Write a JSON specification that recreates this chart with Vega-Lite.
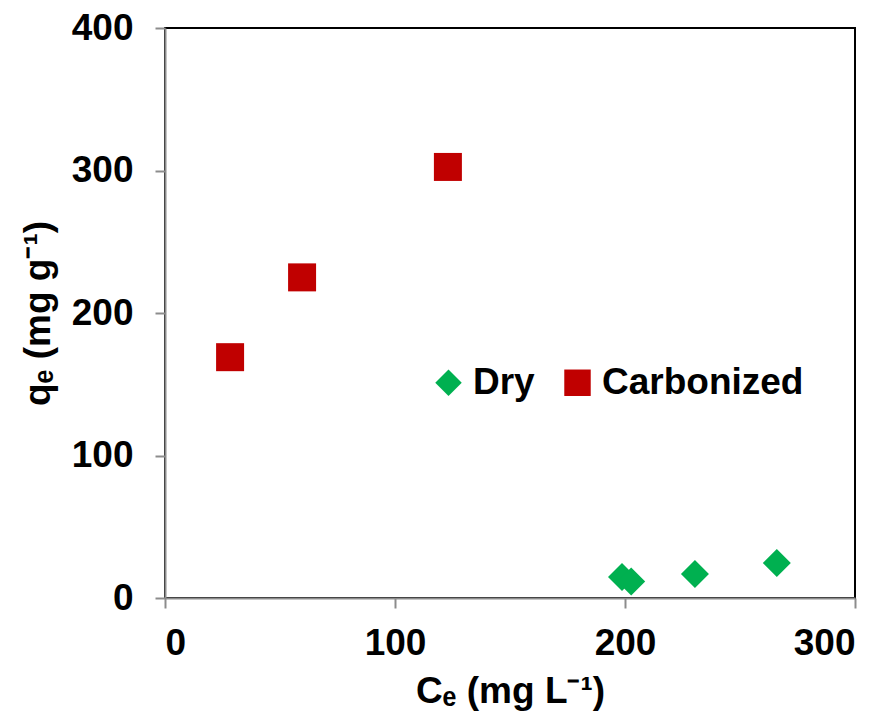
{
  "$schema": "https://vega.github.io/schema/vega-lite/v6.json",
  "width": 690,
  "height": 570,
  "autosize": "none",
  "padding": {"left": 165, "top": 28, "right": 38, "bottom": 122},
  "background": "white",
  "config": {
    "font": "Liberation Sans",
    "view": {"stroke": "black", "strokeWidth": 2},
    "axis": {
      "grid": false,
      "domainColor": "#8c8c8c",
      "domainWidth": 2,
      "tickColor": "#8c8c8c",
      "tickWidth": 2,
      "tickSize": 10,
      "labelFont": "Liberation Sans",
      "labelFontSize": 37,
      "labelFontWeight": "bold",
      "labelColor": "black",
      "titleFont": "Liberation Sans",
      "titleFontSize": 37,
      "titleFontWeight": "bold",
      "titleColor": "black"
    }
  },
  "data": {
    "values": [
      {"Ce": 28.3, "qe": 169, "series": "Carbonized"},
      {"Ce": 59.6, "qe": 225, "series": "Carbonized"},
      {"Ce": 123, "qe": 302.5, "series": "Carbonized"},
      {"Ce": 198.7, "qe": 14.7, "series": "Dry"},
      {"Ce": 202.7, "qe": 11.5, "series": "Dry"},
      {"Ce": 230.4, "qe": 16.8, "series": "Dry"},
      {"Ce": 266, "qe": 24.5, "series": "Dry"}
    ]
  },
  "mark": {"type": "point", "filled": true, "opacity": 1, "size": 784},
  "encoding": {
    "x": {
      "field": "Ce", "type": "quantitative",
      "scale": {"domain": [0, 300], "nice": false},
      "axis": {"values": [0, 100, 200, 300], "title": "Cₑ (mg L⁻¹)", "labelPadding": 17, "titlePadding": 12}
    },
    "y": {
      "field": "qe", "type": "quantitative",
      "scale": {"domain": [0, 400], "nice": false},
      "axis": {"values": [0, 100, 200, 300, 400], "title": "qₑ (mg g⁻¹)", "labelPadding": 22, "titlePadding": 14}
    },
    "color": {
      "field": "series", "type": "nominal",
      "scale": {"domain": ["Dry", "Carbonized"], "range": ["#00b050", "#c00000"]},
      "legend": {
        "orient": "none", "legendX": 265, "legendY": 336,
        "direction": "horizontal", "title": null,
        "labelFontSize": 37, "labelFontWeight": "bold", "labelColor": "black",
        "labelFont": "Liberation Sans", "labelLimit": 0,
        "symbolSize": 700, "labelOffset": 6, "columnPadding": 24,
        "symbolStrokeWidth": 0
      }
    },
    "shape": {
      "field": "series", "type": "nominal",
      "scale": {"domain": ["Dry", "Carbonized"], "range": ["diamond", "square"]}
    }
  }
}
